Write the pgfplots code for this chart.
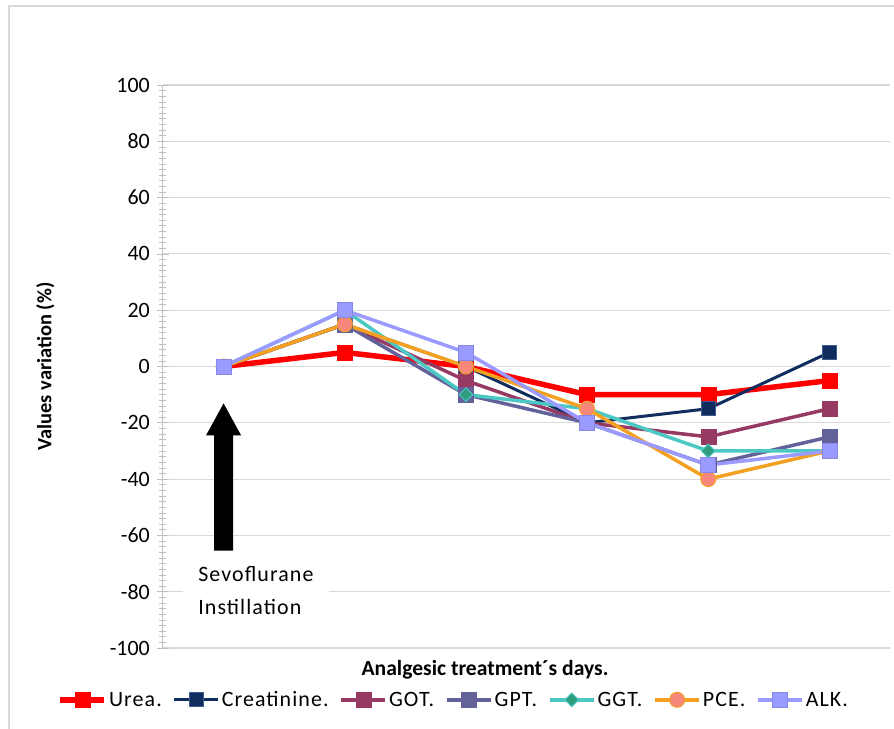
\documentclass[border=0pt]{standalone}
\usepackage{pgfplots}
\pgfplotsset{compat=1.18}
\usepackage{fontspec}
\setmainfont{Carlito}
\newfontfamily\spaced[LetterSpace=5]{Carlito}

\definecolor{ureaC}{HTML}{FF0000}
\definecolor{creatC}{HTML}{0F2D5E}
\definecolor{creatE}{HTML}{3F5C8E}
\definecolor{gotC}{HTML}{963A64}
\definecolor{gptC}{HTML}{62619A}
\definecolor{ggtC}{HTML}{4BC8C3}
\definecolor{ggtM}{HTML}{2F9C7E}
\definecolor{pceC}{HTML}{F4A021}
\definecolor{pceM}{HTML}{F7877A}
\definecolor{alkC}{HTML}{9B9BFF}
\definecolor{alkE}{HTML}{8787E6}
\definecolor{gridC}{HTML}{D9D9D9}
\definecolor{axisC}{HTML}{BFBFBF}

\begin{document}
\begin{tikzpicture}
\useasboundingbox (-163bp,-81bp) rectangle (731bp,648bp);
% outer chart frame (left and top edges)
\draw[gridC, line width=1.5bp] (-154bp,-81bp) -- (-154bp,642bp) -- (731bp,642bp);
\begin{axis}[
  at={(0,0)}, anchor=south west,
  scale only axis,
  width=727bp, height=563bp,
  xmin=-0.5, xmax=5.5,
  ymin=-100, ymax=100,
  ytick={-100,-80,...,100},
  minor y tick num=9,
  xtick=\empty,
  axis lines=left,
  x axis line style={draw=none},
  y axis line style={axisC, line width=1bp, -},
  ymajorgrids,
  major grid style={gridC, line width=1.1bp},
  tick align=center,
  major tick length=12bp,
  minor tick length=7bp,
  every tick/.style={axisC, line width=0.6bp},
  font=\fontsize{20.5}{24}\selectfont,
  /pgf/number format/assume math mode=true,
  yticklabel style={anchor=east, inner sep=0pt, xshift=-7bp, font=\fontsize{22}{26}\selectfont},
  ylabel={\bfseries Values variation (\%)},
  ylabel style={at={(axis description cs:-0.162,0.5)}, anchor=center, font=\fontsize{20.5}{24}\selectfont},
  xlabel={\bfseries Analgesic treatment´s days.},
  xlabel style={at={(axis description cs:0.443,-0.039)}, anchor=center, font=\fontsize{21.7}{25}\selectfont},
  legend columns=7,
  legend style={at={(axis description cs:0.40,-0.092)}, anchor=center, draw=none, fill=none,
    font=\spaced\fontsize{22}{26}\selectfont,
    /tikz/every even column/.append style={column sep=9bp}},
  legend image code/.code={
    \draw[mark repeat=2,mark phase=2] plot coordinates {(0bp,0bp)(22bp,0bp)(44bp,0bp)};
  },
]
% Urea
\addplot[ureaC, line width=5.5bp, mark=square*, mark size=7.5bp,
  mark options={solid, fill=ureaC, draw=ureaC, line width=0.5bp}]
  coordinates {(0,0) (1,5) (2,0) (3,-10) (4,-10) (5,-5)};
\addlegendentry{Urea.}
% Creatinine
\addplot[creatC, line width=3bp, mark=square*, mark size=7bp,
  mark options={solid, fill=creatC, draw=creatE, line width=1bp}]
  coordinates {(0,0) (1,15) (2,0) (3,-20) (4,-15) (5,5)};
\addlegendentry{Creatinine.}
% GOT
\addplot[gotC, line width=3.5bp, mark=square*, mark size=7.5bp,
  mark options={solid, fill=gotC, draw=gotC, line width=0.5bp}]
  coordinates {(0,0) (1,15) (2,-5) (3,-20) (4,-25) (5,-15)};
\addlegendentry{GOT.}
% GPT
\addplot[gptC, line width=3.5bp, mark=square*, mark size=7.5bp,
  mark options={solid, fill=gptC, draw=gptC, line width=0.5bp}]
  coordinates {(0,0) (1,15) (2,-10) (3,-20) (4,-35) (5,-25)};
\addlegendentry{GPT.}
% GGT (diamond = rotated square)
\addplot[ggtC, line width=3.5bp, mark=square*, mark size=4.8bp,
  mark options={solid, rotate=45, fill=ggtM, draw=ggtC, line width=1bp}]
  coordinates {(0,0) (1,20) (2,-10) (3,-15) (4,-30) (5,-30)};
\addlegendentry{GGT.}
% PCE
\addplot[pceC, line width=3.5bp, mark=*, mark size=7.5bp,
  mark options={solid, fill=pceM, draw=pceC, line width=1bp}]
  coordinates {(0,0) (1,15) (2,0) (3,-15) (4,-40) (5,-30)};
\addlegendentry{PCE.}
% ALK
\addplot[alkC, line width=3.5bp, mark=square*, mark size=7.5bp,
  mark options={solid, fill=alkC, draw=alkE, line width=0.8bp}]
  coordinates {(0,0) (1,20) (2,5) (3,-20) (4,-35) (5,-30)};
\addlegendentry{ALK.}

% block arrow marking the instillation day
\fill[black] (axis cs:0,-13.1)
  -- (axis cs:0.145,-24.5) -- (axis cs:0.079,-24.5)
  -- (axis cs:0.079,-65.4) -- (axis cs:-0.079,-65.4)
  -- (axis cs:-0.079,-24.5) -- (axis cs:-0.145,-24.5) -- cycle;
\node[anchor=west, fill=white, align=left, inner xsep=15bp, inner ysep=4bp,
  font=\spaced\fontsize{22}{34}\selectfont]
  at (axis cs:-0.334,-79.6) {Sevoflurane\\Instillation};
\end{axis}
\end{tikzpicture}
\end{document}
